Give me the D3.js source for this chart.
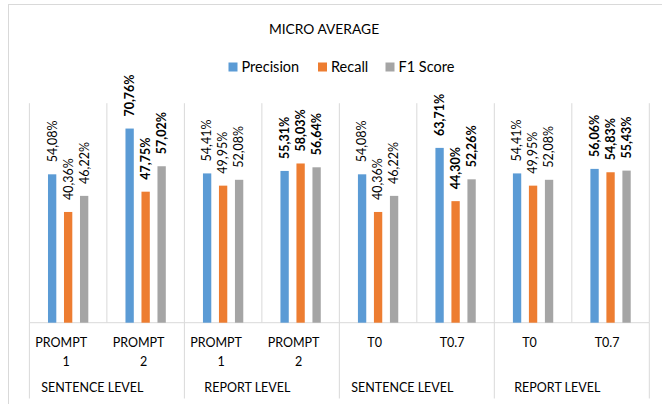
<!DOCTYPE html>
<html><head><meta charset="utf-8">
<script src="https://cdn.jsdelivr.net/npm/d3@7"></script>
<style>
html,body{margin:0;padding:0;background:#fff;}
svg{display:block;font-family:Lato,"Open Sans",sans-serif;}
</style></head>
<body>
<svg id="chart" width="662" height="404"></svg>
<script>
const title = "MICRO AVERAGE";
const seriesNames = ["Precision", "Recall", "F1 Score"];
const seriesColors = ["#5b9bd5", "#ed7d31", "#a5a5a5"];
const categoryLabels = [["PROMPT","1"],["PROMPT","2"],["PROMPT","1"],["PROMPT","2"],["T0"],["T0.7"],["T0"],["T0.7"]];
const groupLabels = ["SENTENCE LEVEL", "REPORT LEVEL", "SENTENCE LEVEL", "REPORT LEVEL"];
const precision = [54.08, 70.76, 54.41, 55.31, 54.08, 63.71, 54.41, 56.06];
const recall    = [40.36, 47.75, 49.95, 58.03, 40.36, 44.30, 49.95, 54.83];
const f1score   = [46.22, 57.02, 52.08, 56.64, 46.22, 52.26, 52.08, 55.43];
const boldCategory = [false, true, false, true, false, true, false, true];
const yMax = 80;

const svg = d3.select("#chart");
const plot = {left: 29.4, right: 649.3, top: 103.2, bottom: 322.7};
const gridColor = "#d9d9d9";

// outer border
svg.append("rect").attr("x", 8.5).attr("y", 4.5).attr("width", 700).attr("height", 500)
  .attr("fill", "#fff").attr("stroke", gridColor);

const cats = d3.range(categoryLabels.length);
const x = d3.scaleBand().domain(cats).range([plot.left, plot.right]).padding(0);
const bw = x.bandwidth();
const xs = d3.scaleBand().domain(d3.range(seriesNames.length))
  .range([bw/2 - 24, bw/2 + 24]).paddingInner(0.48).paddingOuter(0.24);
const y = d3.scaleLinear().domain([0, yMax]).range([plot.bottom, plot.top]);

// vertical gridlines at category boundaries
const bounds = cats.map(i => x(i)).concat([plot.right]);
svg.append("g").selectAll("line").data(bounds).join("line")
  .attr("x1", d => d).attr("x2", d => d)
  .attr("y1", y(yMax)).attr("y2", y(0))
  .attr("stroke", gridColor).attr("stroke-width", 1);

// axis baseline
const axisG = svg.append("g").attr("transform", `translate(0,${plot.bottom})`);
axisG.call(d3.axisBottom(x).tickSize(0).tickFormat(""));
axisG.select(".domain").attr("stroke", gridColor).attr("stroke-width", 1)
  .attr("d", `M${plot.left},0H${plot.right}`);

// group boundary ticks below axis
const groupBounds = d3.range(0, cats.length + 1, 2).map(i => i < cats.length ? x(i) : plot.right);
svg.append("g").selectAll("line").data(groupBounds).join("line")
  .attr("x1", d => d).attr("x2", d => d)
  .attr("y1", plot.bottom).attr("y2", 398.5)
  .attr("stroke", gridColor).attr("stroke-width", 1);

// bars
const series = [precision, recall, f1score];
const barData = [];
cats.forEach(c => series.forEach((s, k) => barData.push({c, k, v: s[c]})));
svg.append("g").selectAll("rect").data(barData).join("rect")
  .attr("x", d => x(d.c) + xs(d.k))
  .attr("width", xs.bandwidth())
  .attr("y", d => y(d.v))
  .attr("height", d => y(0) - y(d.v))
  .attr("fill", d => seriesColors[d.k]);

// data labels (rotated)
const fmt = v => v.toFixed(2).replace(".", ",") + "%";
svg.append("g").selectAll("text").data(barData).join("text")
  .attr("transform", d => `translate(${x(d.c) + xs(d.k) + xs.bandwidth()/2},${y(d.v) - 12}) rotate(-90)`)
  .attr("dy", "0.35em")
  .attr("text-anchor", "start")
  .attr("font-size", 12.5)
  .attr("font-weight", d => boldCategory[d.c] ? "bold" : "normal")
  .attr("fill", "#000")
  .text(d => fmt(d.v));

// category labels
const catG = svg.append("g");
cats.forEach(c => {
  const lines = categoryLabels[c];
  const cx = x(c) + bw/2;
  lines.forEach((ln, i) => {
    const dx = lines.length > 1 ? (i === 0 ? -7 : -2) : -3.5;
    catG.append("text")
      .attr("x", cx + dx).attr("y", 342.7 + i * 18.5)
      .attr("dy", "0.35em").attr("text-anchor", "middle")
      .attr("font-size", 12.5).attr("fill", "#000")
      .text(ln);
  });
});

// group labels
svg.append("g").selectAll("text").data(groupLabels).join("text")
  .attr("x", (d, i) => (groupBounds[i] + groupBounds[i+1]) / 2 - 14.5)
  .attr("y", 388)
  .attr("dy", "0.35em").attr("text-anchor", "middle")
  .attr("font-size", 12.5).attr("fill", "#000")
  .text(d => d);

// title
svg.append("text").attr("x", 324).attr("y", 29)
  .attr("dy", "0.35em").attr("text-anchor", "middle")
  .attr("font-size", 13.8).attr("fill", "#000")
  .text(title);

// legend
const legendX = [228.5, 318, 385.5];
const lg = svg.append("g").selectAll("g").data(seriesNames).join("g")
  .attr("transform", (d, i) => `translate(${legendX[i]},67)`);
lg.append("rect").attr("x", 0).attr("y", -4.5).attr("width", 9).attr("height", 9)
  .attr("fill", (d, i) => seriesColors[i]);
lg.append("text").attr("x", 13).attr("y", 0).attr("dy", "0.35em")
  .attr("font-size", 14.5).attr("fill", "#000").text(d => d);
</script>
</body></html>
